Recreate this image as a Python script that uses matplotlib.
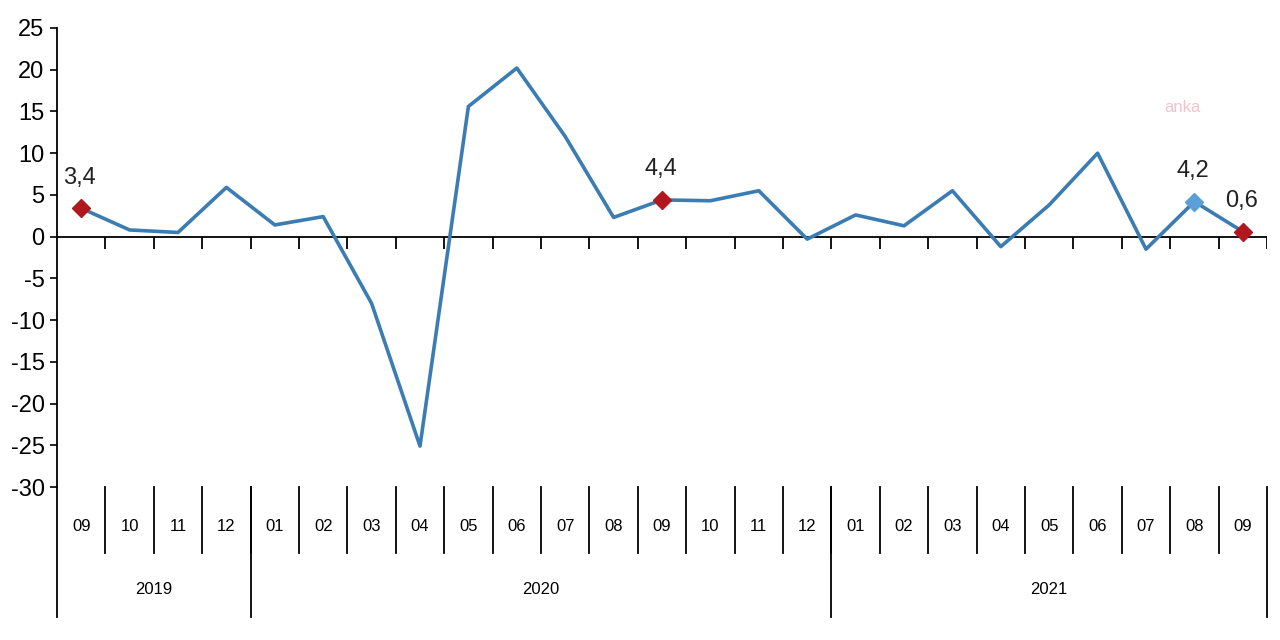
import numpy as np
import matplotlib.pyplot as plt
from matplotlib import font_manager

# aylar ve değerler (2019-09 .. 2021-09)
months = ['09', '10', '11', '12',
          '01', '02', '03', '04', '05', '06', '07', '08', '09', '10', '11', '12',
          '01', '02', '03', '04', '05', '06', '07', '08', '09']
values = [3.4, 0.8, 0.5, 5.9,
          1.4, 2.4, -8.0, -25.1, 15.6, 20.2, 12.0, 2.3, 4.4, 4.3, 5.5, -0.3,
          2.6, 1.3, 5.5, -1.2, 3.8, 10.0, -1.5, 4.2, 0.6]
years = ['2019', '2020', '2021']
year_counts = [4, 12, 9]

# etiketli noktalar
red_points = [0, 12, 24]
blue_points = [23]

names = {f.name for f in font_manager.fontManager.ttflist}
fam = 'Liberation Sans Narrow' if 'Liberation Sans Narrow' in names else 'Liberation Sans'
plt.rcParams['font.family'] = [fam, 'DejaVu Sans']
plt.rcParams['axes.unicode_minus'] = False

line_color = '#3b7cb3'
red = '#b0181e'
light_blue = '#5b9fd8'

fig = plt.figure(figsize=(12.8, 6.4), dpi=100)
ax = fig.add_axes([57 / 1280, 1 - 487 / 640, 1210 / 1280, 459 / 640])

n = len(values)
x = np.arange(n) + 0.5
ax.plot(x, values, color=line_color, linewidth=2.6, zorder=3)

for i in red_points:
    ax.plot(x[i], values[i], marker='D', color=red, markersize=9, zorder=4)
for i in blue_points:
    ax.plot(x[i], values[i], marker='D', color=light_blue, markersize=9, zorder=4)
for i in red_points + blue_points:
    ax.annotate(f'{values[i]:.1f}'.replace('.', ','), (x[i], values[i]),
                xytext=(-1, 22), textcoords='offset points',
                ha='center', va='center', fontsize=17, color='#222222')

ax.set_xlim(0, n)
ax.set_ylim(-30, 25)
ax.set_yticks(np.arange(-30, 26, 5))
ax.tick_params(axis='y', direction='out', length=5, width=1.2, labelsize=17, pad=4)
ax.set_xticks([])

for s in ['top', 'right', 'bottom']:
    ax.spines[s].set_visible(False)
ax.spines['left'].set_linewidth(1.3)

# sıfır çizgisi ve küçük çentikler
ax.axhline(0, color='black', linewidth=1.3, zorder=2)
ax.vlines(np.arange(1, n + 1), -1.45, 0, color='black', linewidth=1.3)

# alt kategori ekseni
tr = ax.get_xaxis_transform()
ax.plot([0, 0], [0, -0.283], transform=tr, color='black', linewidth=1.3, clip_on=False)
for k in range(1, n):
    ax.plot([k, k], [0, -0.144], transform=tr, color='black', linewidth=1.3, clip_on=False)
for k, m in enumerate(months):
    ax.text(k + 0.5, -0.087, m, transform=tr, ha='center', va='center', fontsize=12)

start = 0
for y, c in zip(years, year_counts):
    end = start + c
    ax.plot([end, end], [0, -0.283], transform=tr, color='black', linewidth=1.3, clip_on=False)
    ax.text((start + end) / 2, -0.224, y, transform=tr, ha='center', va='center', fontsize=12)
    start = end

# filigran
fig.text(1182 / 1280, 1 - 107 / 640, 'anka', color='#f3c3cb', fontsize=12,
         ha='center', va='center')

fig.savefig('out.png', dpi=100)
